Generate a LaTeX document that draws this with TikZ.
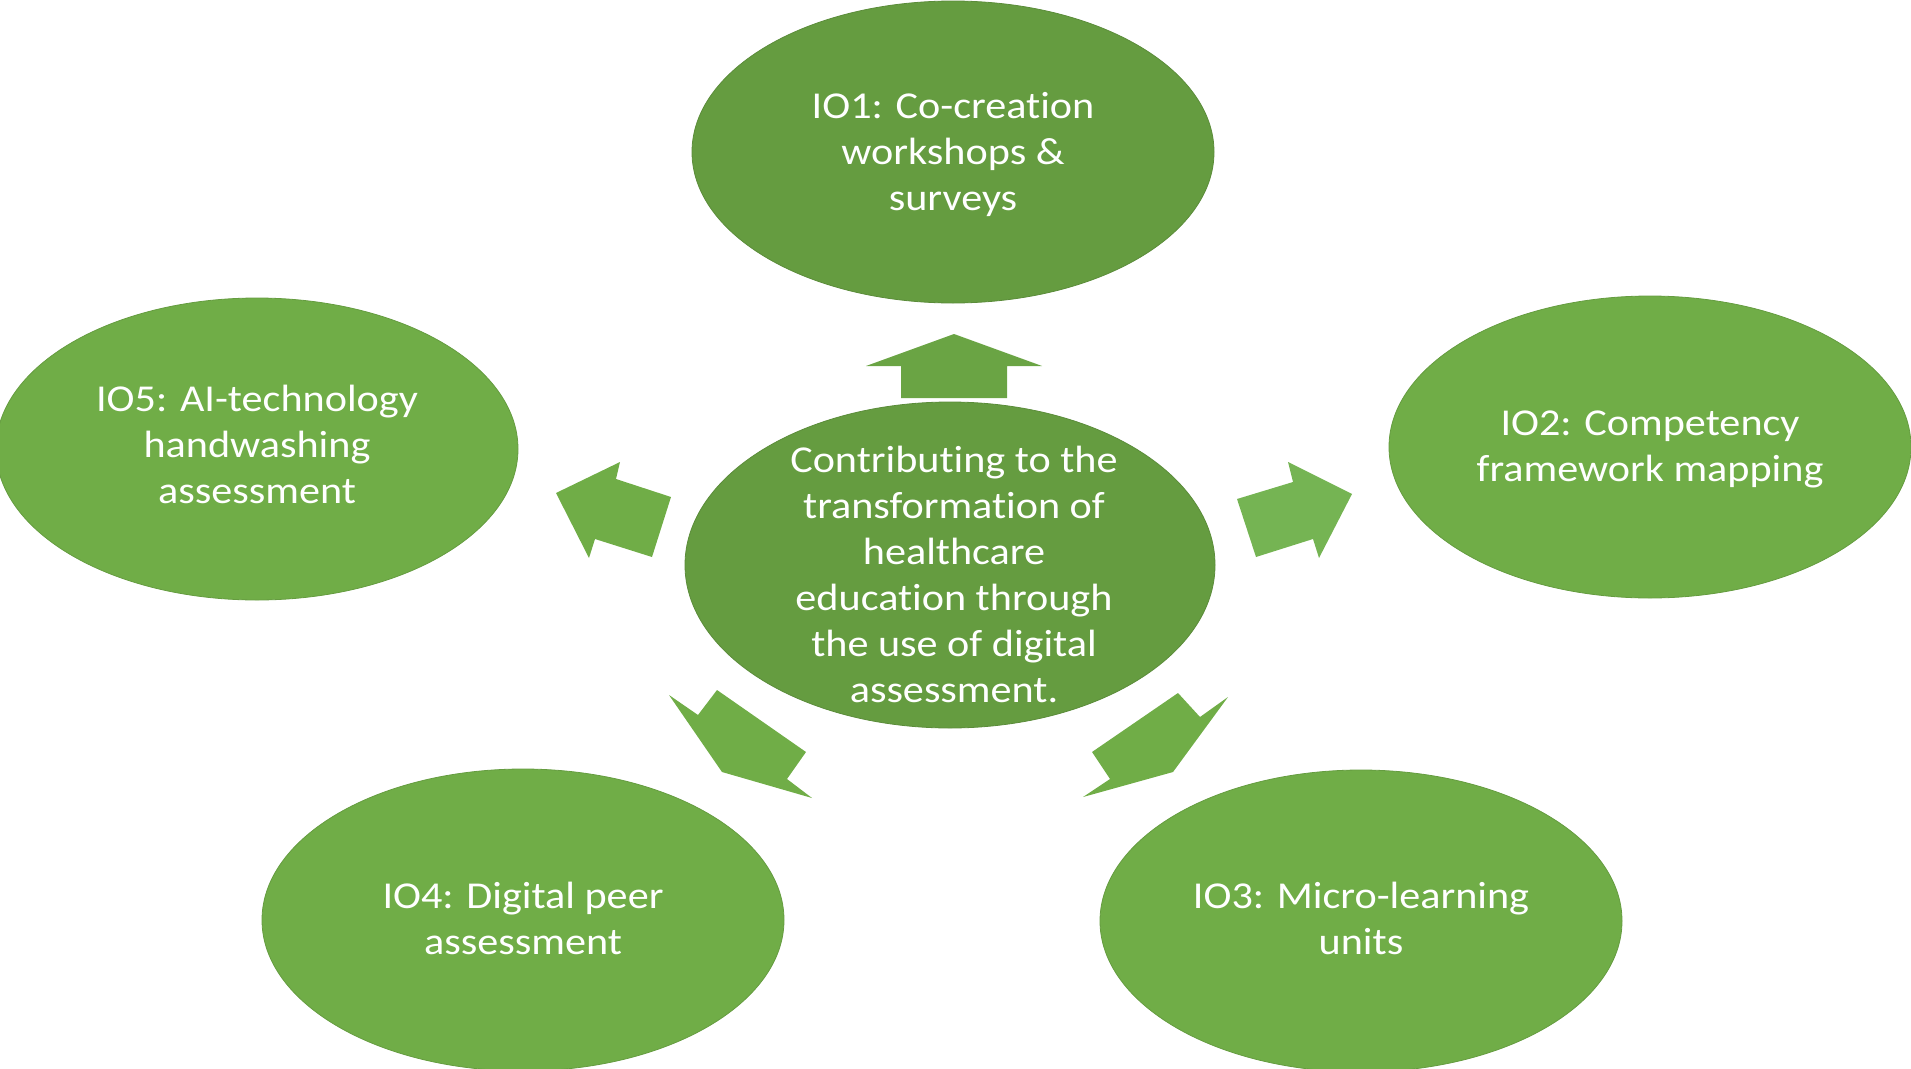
\documentclass[tikz,border=0pt]{standalone}
\usepackage{fontspec}
\setmainfont{Carlito}[FakeStretch=1.11, Ligatures=NoCommon]
\usetikzlibrary{shapes.geometric}
\definecolor{gOuter}{HTML}{70AD47}
\definecolor{gDark}{HTML}{659C40}
\definecolor{gUp}{HTML}{6AA444}
\definecolor{gLeft}{HTML}{70AD47}
\definecolor{gRight}{HTML}{75B453}
\definecolor{gLow}{HTML}{70AD47}
\tikzset{
  bubble/.style={ellipse, minimum width=522pt, minimum height=302pt, inner sep=0pt, fill=gOuter, draw=gOuter!90!black, line width=0.8pt},
  darkbubble/.style={bubble, fill=gDark, draw=gDark!90!black},
  label/.style={text=white, align=center, inner sep=0pt, font=\fontsize{38}{46}\selectfont},
  blockarrow/.style={draw=none}
}
\begin{document}
\begin{tikzpicture}[x=1pt, y=-1pt]
\useasboundingbox (0,0) rectangle (1911,1068);
% ellipses
\node[darkbubble] (io1) at (953,152) {};
\node[darkbubble, minimum width=530pt, minimum height=326pt] (ctr) at (950,565) {};
\node[bubble] (io2) at (1650,447) {};
\node[bubble] (io5) at (257,449) {};
\node[bubble] (io4) at (523,920) {};
\node[bubble] (io3) at (1361,921) {};
% texts
\node[label] (t1) at (953,154) {IO1: Co-creation\\workshops \&\\surveys};
\node[label] (tc) at (954,574) {Contributing to the\\transformation of\\healthcare\\education through\\the use of digital\\assessment.};
\node[label] (t2) at (1650,449) {IO2: Competency\\framework mapping};
\node[label] (t5) at (257,444) {IO5: AI-technology\\handwashing\\assessment};
\node[label] (t4) at (523,918) {IO4: Digital peer\\assessment};
\node[label] (t3) at (1361,918) {IO3: Micro-learning\\units};
% block arrows
\fill[gUp] (954,334) -- (1042,366) -- (1007,366) -- (1007,398) -- (901,398) -- (901,366) -- (866,366) -- cycle;
\fill[gLeft] (556,493) -- (620,462) -- (616,479) -- (671,497) -- (652,557) -- (595,539) -- (589,558) -- cycle;
\fill[gRight] (1352,494) -- (1288,462) -- (1293,482) -- (1237,499) -- (1256,557) -- (1313,539) -- (1319,558) -- cycle;
\fill[gLow] (722,772) -- (669,695) -- (698,715) -- (717,690) -- (806,752) -- (787,779) -- (812,798) -- cycle;
\fill[gLow] (1173,772) -- (1228,697) -- (1200,717) -- (1178,693) -- (1092,752) -- (1110,779) -- (1083,797) -- cycle;
\end{tikzpicture}
\end{document}
